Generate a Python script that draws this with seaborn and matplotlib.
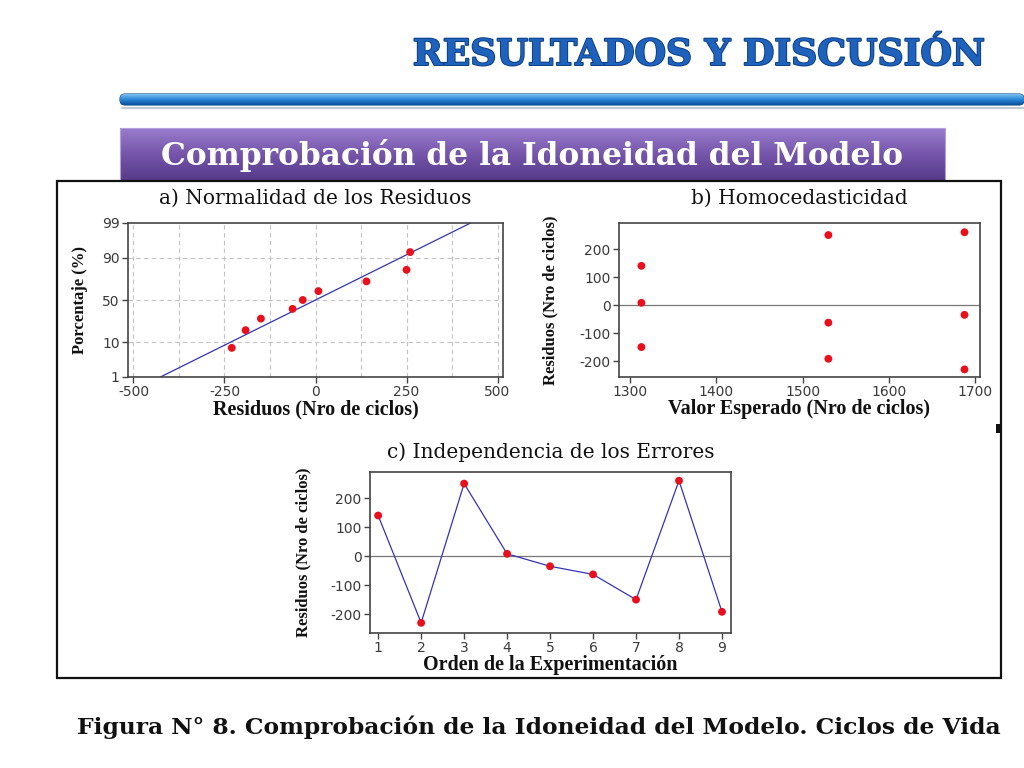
import numpy as np
import pandas as pd
import seaborn as sns
import matplotlib.pyplot as plt
import matplotlib.patheffects as pe
from matplotlib.patches import FancyBboxPatch, Rectangle
from statistics import NormalDist

# datos
orden = [1, 2, 3, 4, 5, 6, 7, 8, 9]
residuos = [140, -230, 250, 8, -35, -63, -150, 260, -192]
ajustados = [1313, 1688, 1530, 1313, 1688, 1530, 1313, 1688, 1530]
porcentajes = [7.4, 18.1, 28.7, 39.4, 50.0, 60.6, 71.3, 81.9, 92.6]
linea_res = [-426, 426]
linea_pct = [1, 99]
ticks_pct = [1, 10, 50, 90, 99]

sns.set_style("ticks")
plt.rcParams['font.family'] = ['DejaVu Sans']
plt.rcParams['axes.unicode_minus'] = False

W, H = 1024, 768
fig = plt.figure(figsize=(W / 100, H / 100), dpi=100)
fig.patch.set_facecolor('white')

def px(l, t, r, b):
    return [l / W, 1 - b / H, (r - l) / W, (b - t) / H]

nd = NormalDist()

def z(p):
    # escala de probabilidad normal
    return np.array([nd.inv_cdf(v / 100.0) for v in np.atleast_1d(p)])

# fondo: decoraciones de la diapositiva
bg = fig.add_axes([0, 0, 1, 1], zorder=0)
bg.axis('off')

# titulo
bg.text(985, 55, 'RESULTADOS Y DISCUSIÓN', ha='right', va='center', fontsize=26,
        fontweight='bold', family='DejaVu Serif', color='#1f62bc',
        path_effects=[pe.withStroke(linewidth=1.4, foreground='#0c3f86')])

# barra azul
bar = FancyBboxPatch((120, 94), 904, 11, boxstyle='round,pad=0,rounding_size=5',
                     facecolor='none', edgecolor='#0d4a8c', lw=0.8)
bg.add_patch(bar)
grad = np.linspace(0, 1, 50).reshape(-1, 1)
im = bg.imshow(grad, cmap=sns.blend_palette(['#7cc0f0', '#2a86d6', '#0b4f9c'], as_cmap=True),
               extent=(120, 1024, 105, 94), aspect='auto', zorder=1)
im.set_clip_path(bar)
bg.plot([122, 1024], [108, 108], color='#9aa6b4', lw=1.5, alpha=0.6)

# banner morado
bg.imshow(grad, cmap=sns.blend_palette(['#9a7ccc', '#7455aa', '#563a88'], as_cmap=True),
          extent=(120, 945, 181, 128), aspect='auto', zorder=1)
bg.add_patch(Rectangle((120, 128), 825, 53, facecolor='none', edgecolor='#b49ee0', lw=0.8, zorder=2))
bg.text(532, 156, 'Comprobación de la Idoneidad del Modelo', ha='center', va='center',
        fontsize=22.5, fontweight='bold', family='DejaVu Serif', color='white', zorder=3)

# marco
bg.add_patch(Rectangle((57, 181), 944, 497, facecolor='white', edgecolor='#111111', lw=1.6, zorder=4))
bg.add_patch(Rectangle((996, 424), 4, 9, facecolor='#111111', edgecolor='none', zorder=5))

# pie de figura
bg.text(539, 727, 'Figura N° 8. Comprobación de la Idoneidad del Modelo. Ciclos de Vida',
        ha='center', va='center', fontsize=16.8, fontweight='bold',
        family='DejaVu Serif', color='#111111')
bg.set_xlim(0, W)
bg.set_ylim(H, 0)

tit_kw = dict(family='DejaVu Serif', fontsize=14.5, color='#111111')
xlab_kw = dict(family='Liberation Serif', fontsize=14.5, fontweight='bold', color='#111111')
ylab_kw = dict(family='Liberation Serif', fontsize=12, fontweight='bold', color='#111111')
rojo = '#e8101c'
azul = '#3434b8'

def estilo(ax):
    for s in ax.spines.values():
        s.set_color('#444444')
        s.set_linewidth(1.2)
    ax.tick_params(direction='out', length=4, width=1, color='#444444',
                   labelsize=10, labelcolor='#3a3a3a', pad=2)
    ax.set_facecolor('white')

# a) Normalidad
axa = fig.add_axes(px(128, 223, 503, 377), zorder=6)
estilo(axa)
for xv in np.arange(-500, 501, 125):
    axa.axvline(xv, color='#c4c4c4', ls=(0, (4, 3)), lw=0.8, zorder=0)
for p in [10, 50, 90]:
    axa.axhline(z(p)[0], color='#c4c4c4', ls=(0, (4, 3)), lw=0.8, zorder=0)
df_a = pd.DataFrame({'res': np.sort(residuos), 'z': z(porcentajes)})
sns.lineplot(x=linea_res, y=z(linea_pct), color=azul, lw=0.9, ax=axa)
sns.scatterplot(data=df_a, x='res', y='z', color=rojo, s=32, edgecolor='none', ax=axa, zorder=3)
axa.set_xlim(-515, 515)
axa.set_ylim(z(1)[0], z(99)[0])
axa.set_xticks([-500, -250, 0, 250, 500])
axa.set_yticks(z(ticks_pct))
axa.set_yticklabels([str(t) for t in ticks_pct])
axa.set_title('a) Normalidad de los Residuos', pad=14, **tit_kw)
axa.set_xlabel('Residuos (Nro de ciclos)', labelpad=0, **xlab_kw)
axa.set_ylabel('Porcentaje (%)', labelpad=10, **ylab_kw)

# b) Homocedasticidad
axb = fig.add_axes(px(619, 223, 980, 377), zorder=6)
estilo(axb)
df_b = pd.DataFrame({'ajustado': ajustados, 'res': residuos})
axb.axhline(0, color='#777777', lw=0.9, zorder=0)
sns.scatterplot(data=df_b, x='ajustado', y='res', color=rojo, s=32, edgecolor='none', ax=axb, zorder=3)
axb.set_xlim(1287, 1706)
axb.set_ylim(-257, 293)
axb.set_xticks([1300, 1400, 1500, 1600, 1700])
axb.set_yticks([-200, -100, 0, 100, 200])
axb.set_title('b) Homocedasticidad', pad=14, **tit_kw)
axb.set_xlabel('Valor Esperado (Nro de ciclos)', labelpad=0, **xlab_kw)
axb.set_ylabel('Residuos (Nro de ciclos)', labelpad=15, **ylab_kw)

# c) Independencia
axc = fig.add_axes(px(370, 472, 731, 633), zorder=6)
estilo(axc)
df_c = pd.DataFrame({'orden': orden, 'res': residuos})
axc.axhline(0, color='#777777', lw=0.9, zorder=0)
sns.lineplot(data=df_c, x='orden', y='res', color=azul, lw=0.9, ax=axc)
sns.scatterplot(data=df_c, x='orden', y='res', color=rojo, s=32, edgecolor='none', ax=axc, zorder=3)
axc.set_xlim(0.81, 9.21)
axc.set_ylim(-265, 290)
axc.set_xticks(orden)
axc.set_yticks([-200, -100, 0, 100, 200])
axc.set_title('c) Independencia de los Errores', pad=10, **tit_kw)
axc.set_xlabel('Orden de la Experimentación', labelpad=0, **xlab_kw)
axc.set_ylabel('Residuos (Nro de ciclos)', labelpad=14, **ylab_kw)

fig.savefig('out.png', dpi=100, facecolor='white')
